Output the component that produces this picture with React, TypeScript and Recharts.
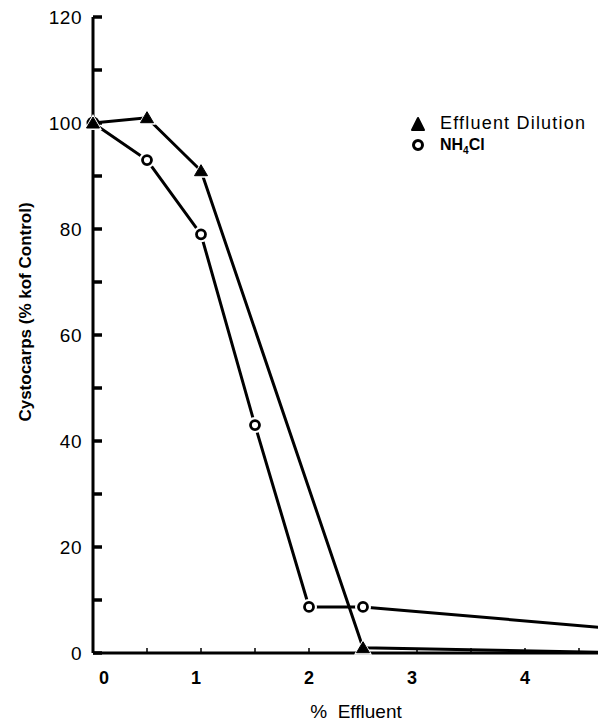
import React from 'react';
import { LineChart, Line, XAxis, YAxis, Legend, Label } from 'recharts';

// % effluent concentrations
const effluentPct = [0, 0.5, 1, 1.5, 2, 2.5, 5];
// cystocarps, % of control
const dilutionVals = [100, 101, 91, null, null, 1, 0];
const nh4clVals = [100, 93, 79, 43, 8.7, 8.7, 4.3];

const yTicks = [0, 10, 20, 30, 40, 50, 60, 70, 80, 90, 100, 110, 120];
const xTicks = [0, 0.5, 1, 1.5, 2, 2.5, 3, 3.5, 4, 4.5];

const data = effluentPct.map((x, i) => ({ x, dilution: dilutionVals[i], nh4cl: nh4clVals[i] }));

const FONT = '"Liberation Sans", Arial, sans-serif';

const Triangle = (props: any) => {
    const { cx, cy, payload } = props;
    if (cx == null || cy == null || payload.dilution == null) return null;
    return (
        <g>
            <path d={`M${cx},${cy - 9} L${cx + 9},${cy + 7} L${cx - 9},${cy + 7} Z`} fill="#fff" />
            <path d={`M${cx},${cy - 6} L${cx + 6.5},${cy + 5} L${cx - 6.5},${cy + 5} Z`} fill="#000" stroke="#000" strokeWidth={1} strokeLinejoin="round" />
        </g>
    );
};

const Ring = (props: any) => {
    const { cx, cy, payload } = props;
    if (cx == null || cy == null) return null;
    if (payload.x === 0) return <circle cx={cx} cy={cy} r={6.5} fill="#000" />;
    return (
        <g>
            <circle cx={cx} cy={cy} r={8} fill="#fff" />
            <circle cx={cx} cy={cy} r={4.5} fill="#fff" stroke="#000" strokeWidth={2.8} />
        </g>
    );
};

const YTick = (props: any) => {
    const { x, y, payload } = props;
    if (payload.value % 20 !== 0) return null;
    return (
        <text x={x} y={y} dy="0.36em" textAnchor="end" fontSize={19} letterSpacing={0.5} fontFamily={FONT} fill="#000">
            {payload.value}
        </text>
    );
};

const XTick = (props: any) => {
    const { x, y, payload } = props;
    if (!Number.isInteger(payload.value)) return null;
    const shift = payload.value === 0 ? 11 : payload.value === 1 || payload.value === 3 ? -5 : 0;
    return (
        <text x={x + shift} y={y} dy="0.71em" textAnchor="middle" fontSize={18} fontWeight="bold" fontFamily={FONT} fill="#000">
            {payload.value}
        </text>
    );
};

const YLabel = () => (
    <text x={0} y={0} transform="translate(31,312) rotate(-90)" textAnchor="middle" fontSize={17} fontWeight="bold" fontFamily={FONT} fill="#000">
        Cystocarps (% kof Control)
    </text>
);

const LegendBox = () => (
    <div style={{ fontFamily: FONT, color: '#000', lineHeight: '21px' }}>
        <div style={{ display: 'flex', alignItems: 'center', fontSize: 18, letterSpacing: 1.2, height: 21 }}>
            <svg width={16} height={16} style={{ marginRight: 14 }}>
                <path d="M8,2 L14,14 L2,14 Z" fill="#000" stroke="#000" strokeWidth={2} strokeLinejoin="round" />
            </svg>
            Effluent Dilution
        </div>
        <div style={{ display: 'flex', alignItems: 'center', fontSize: 16, fontWeight: 'bold', height: 21 }}>
            <svg width={16} height={16} style={{ marginRight: 14 }}>
                <circle cx={8} cy={8} r={4.5} fill="#fff" stroke="#000" strokeWidth={3} />
            </svg>
            <span>NH<sub style={{ fontSize: 10, lineHeight: 0 }}>4</sub>Cl</span>
        </div>
    </div>
);

export default function App() {
    return (
        <div style={{ position: 'absolute', left: 0, top: 0, width: 598, height: 721, overflow: 'hidden', background: '#fff' }}>
            <LineChart width={633} height={721} data={data} margin={{ top: 17, right: 0, bottom: 0, left: 0 }}>
                <XAxis
                    dataKey="x"
                    type="number"
                    domain={[0, 5]}
                    ticks={xTicks}
                    height={68}
                    axisLine={{ stroke: '#000', strokeWidth: 3 }}
                    tickLine={{ stroke: '#000', strokeWidth: 1.5, transform: 'translate(0,-5)' }}
                    tickSize={5}
                    tickMargin={13}
                    tick={<XTick />}
                    interval={0}
                >
                    <Label value={'%\u00a0 Effluent'} position="insideBottom" offset={3} dx={-7} fontSize={19} fontFamily={FONT} fill="#000" />
                </XAxis>
                <YAxis
                    type="number"
                    domain={[0, 120]}
                    ticks={yTicks}
                    width={93}
                    axisLine={{ stroke: '#000', strokeWidth: 3 }}
                    tickLine={{ stroke: '#000', strokeWidth: 3.5, transform: 'translate(9,0)' }}
                    tickSize={9}
                    tickMargin={2}
                    tick={<YTick />}
                    interval={0}
                >
                    <Label content={<YLabel />} />
                </YAxis>
                <Legend
                    verticalAlign="middle"
                    align="center"
                    layout="vertical"
                    wrapperStyle={{ top: 113, left: 410, width: 200 }}
                    content={<LegendBox />}
                />
                <Line dataKey="nh4cl" stroke="#000" strokeWidth={3} dot={<Ring />} isAnimationActive={false} />
                <Line dataKey="dilution" stroke="#000" strokeWidth={3} dot={<Triangle />} connectNulls isAnimationActive={false} />
            </LineChart>
        </div>
    );
}
